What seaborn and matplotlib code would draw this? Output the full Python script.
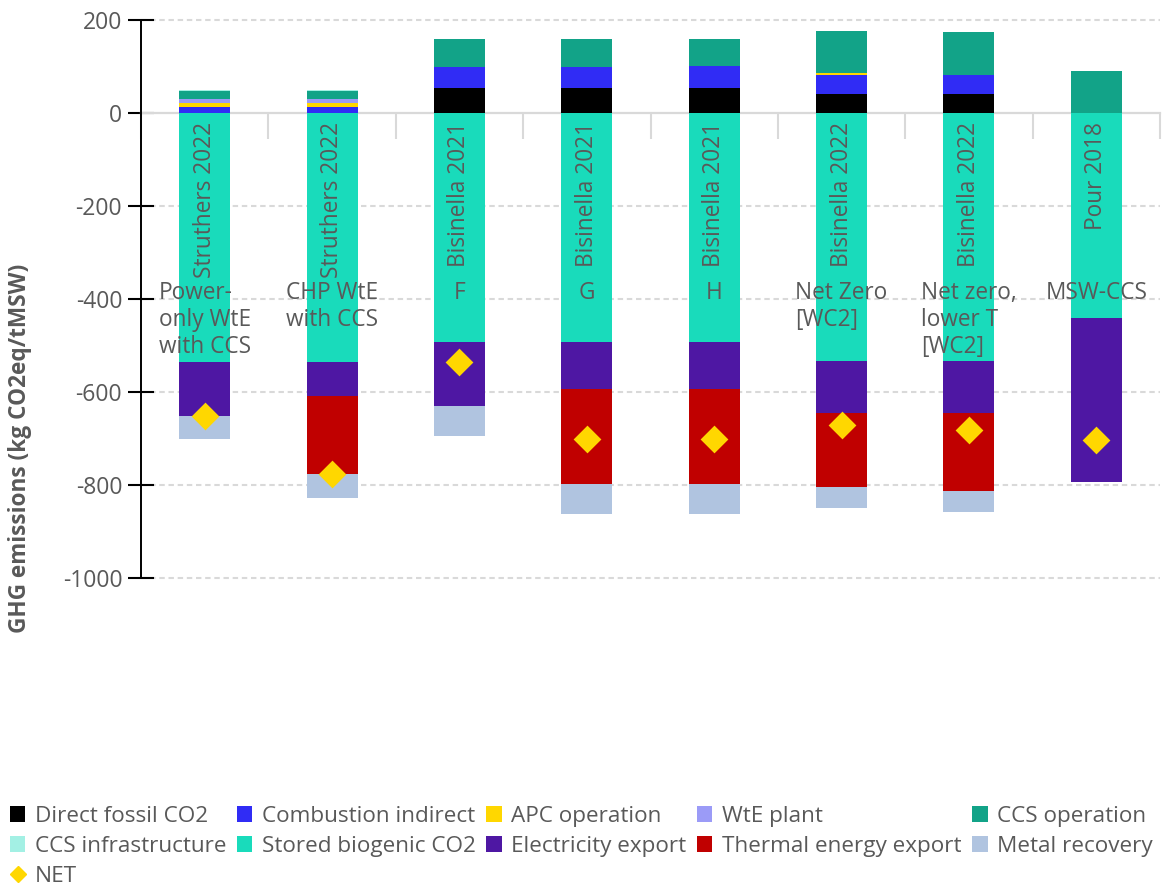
import numpy as np
import matplotlib
matplotlib.use("Agg")
import matplotlib.pyplot as plt
import seaborn as sns
from matplotlib.patches import Patch
from matplotlib.lines import Line2D

# Study / scenario per bar
studies = ["Struthers 2022", "Struthers 2022", "Bisinella 2021", "Bisinella 2021",
           "Bisinella 2021", "Bisinella 2022", "Bisinella 2022", "Pour 2018"]
scenarios = ["Power-\nonly WtE\nwith CCS", "CHP WtE\nwith CCS", "F", "G", "H",
             "Net Zero\n[WC2]", "Net zero,\nlower T\n[WC2]", "MSW-CCS"]

# Emission contributions, kg CO2eq / t MSW
direct_fossil = [0, 0, 54, 54, 54, 40, 40, 0]
combustion_indirect = [13, 13, 45, 45, 48, 41, 41, 0]
apc_operation = [8.5, 8.5, 0, 0, 0, 4, 1.5, 0]
wte_plant = [8.5, 8.5, 0, 0, 0, 0, 0, 0]
ccs_operation = [18, 18, 60, 60, 57, 92, 91, 90]
ccs_infrastructure = [2, 2, 0, 0, 0, 0, 0, 0]
stored_biogenic = [-535, -535, -492, -492, -492, -533, -533, -440]
electricity_export = [-116, -73, -138, -102, -102, -113, -113, -354]
thermal_export = [0, -168, 0, -204, -204, -158, -167, 0]
metal_recovery = [-51, -52, -64, -64, -64, -45, -44, 0]
net_total = [-652, -776, -535, -701, -701, -672, -681, -703]

positive_parts = [
    ("Direct fossil CO2", direct_fossil, "#000000"),
    ("Combustion indirect", combustion_indirect, "#302CF5"),
    ("APC operation", apc_operation, "#FFD700"),
    ("WtE plant", wte_plant, "#9B9BF7"),
    ("CCS operation", ccs_operation, "#12A388"),
    ("CCS infrastructure", ccs_infrastructure, "#A3F0E4"),
]
negative_parts = [
    ("Stored biogenic CO2", stored_biogenic, "#19DBBB"),
    ("Electricity export", electricity_export, "#4E17A3"),
    ("Thermal energy export", thermal_export, "#C00000"),
    ("Metal recovery", metal_recovery, "#B0C4E0"),
]
net_color = "#FFD700"
text_gray = "#595959"
grid_gray = "#D9D9D9"

sns.set_theme(style="white")
plt.rcParams["font.family"] = ["Open Sans", "DejaVu Sans"]
plt.rcParams["axes.unicode_minus"] = False

fig = plt.figure(figsize=(11.62, 8.88), dpi=100)
ax = fig.add_axes([141 / 1162, 1 - 578 / 888, (1160 - 141) / 1162, (578 - 20) / 888])

pos = list(range(len(studies)))

def draw_stack(parts):
    # cumulative extents drawn outermost first so inner segments overlay
    cum = np.cumsum(np.array([p[1] for p in parts], dtype=float), axis=0)
    for k in range(len(parts) - 1, -1, -1):
        sns.barplot(x=pos, y=cum[k], color=parts[k][2], width=0.4,
                    errorbar=None, saturation=1, linewidth=0, ax=ax, zorder=2)

draw_stack(positive_parts)
draw_stack(negative_parts)

sns.scatterplot(x=pos, y=net_total, marker="D", s=200, color=net_color,
                linewidth=0, ax=ax, zorder=4, legend=False)

# Axes styling
ax.set_xlim(-0.5, len(studies) - 0.5)
ax.set_ylim(-1000, 200)
ax.set_yticks(np.arange(-1000, 201, 200))
ax.tick_params(axis="y", direction="inout", length=19, width=1.5, color="black",
               labelsize=16.5, labelcolor=text_gray, pad=4, left=True)
ax.set_xticks([])
ax.set_xticks(np.arange(-0.5, len(studies), 1.0), minor=True)
ax.tick_params(axis="x", which="minor", direction="out", length=19, width=1.5,
               color=grid_gray, bottom=True)
ax.set_xlabel("")
ax.set_ylabel("")

for side in ["top", "right"]:
    ax.spines[side].set_visible(False)
ax.spines["left"].set_color("black")
ax.spines["left"].set_linewidth(1.4)
ax.spines["bottom"].set_position(("data", 0))
ax.spines["bottom"].set_color(grid_gray)
ax.spines["bottom"].set_linewidth(1.6)
ax.spines["bottom"].set_zorder(0.6)
ax.set_axisbelow(True)

for yv in [200, -200, -400, -600, -800, -1000]:
    ax.axhline(yv, color=grid_gray, lw=1.5, ls=(0, (2.6, 1.8)), zorder=0.5, clip_on=False)

# Category labels inside the plot
for i, (st, sc) in enumerate(zip(studies, scenarios)):
    ax.text(i, -20, st, rotation=90, ha="center", va="top", fontsize=16.3,
            color=text_gray, zorder=5)
    ax.text(i, -362, sc, ha="center", va="top", multialignment="left",
            fontsize=16.3, color=text_gray, linespacing=1.15, zorder=5)

fig.text(20 / 1162, 1 - 448 / 888, "GHG emissions (kg CO2eq/tMSW)", rotation=90,
         ha="center", va="center", fontsize=16.3, fontweight="bold", color=text_gray)

# Legend (column-major ordering so rows read left to right)
handles = {name: Patch(facecolor=c, edgecolor="none", label=name)
           for name, _, c in positive_parts + negative_parts}
handles["NET"] = Line2D([], [], marker="D", color=net_color, linestyle="none",
                        markersize=8.5, label="NET")
order = ["Direct fossil CO2", "CCS infrastructure", "NET",
         "Combustion indirect", "Stored biogenic CO2",
         "APC operation", "Electricity export",
         "WtE plant", "Thermal energy export",
         "CCS operation", "Metal recovery"]
leg = fig.legend([handles[n] for n in order], order, ncol=5, loc="upper left",
                 bbox_to_anchor=(10 / 1162, 1 - 806 / 888), frameon=False,
                 fontsize=16.2, handlelength=0.68, handleheight=0.68,
                 handletextpad=0.42, columnspacing=0.48, labelspacing=0.40,
                 borderaxespad=0, borderpad=0)
for t in leg.get_texts():
    t.set_color(text_gray)

fig.savefig("out.png", dpi=100)
